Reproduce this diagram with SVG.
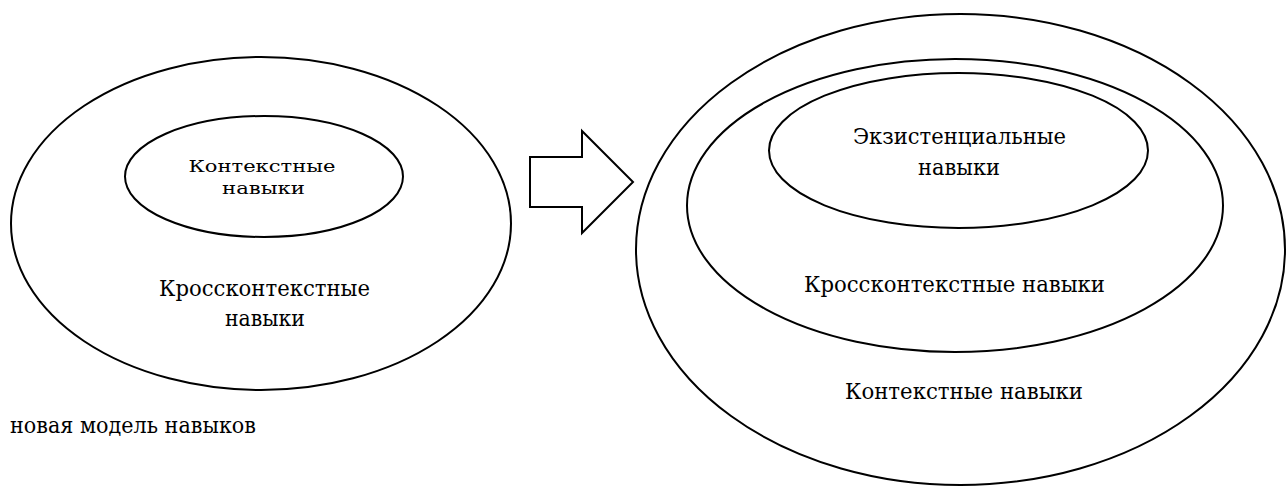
<svg xmlns="http://www.w3.org/2000/svg" width="1287" height="486" viewBox="0 0 1287 486">
<style>
.e{fill:none;stroke:#000;stroke-width:2}
text{fill:#000;text-anchor:middle}
</style>
<rect width="1287" height="486" fill="#fff"/>
<g font-family="DejaVu Serif, Liberation Serif, serif" font-size="23">
<g id="left-outer">
<ellipse class="e" cx="261" cy="223.5" rx="250" ry="166.5"/>
<text x="264.5" y="296" textLength="211" lengthAdjust="spacingAndGlyphs">Кроссконтекстные</text>
<text x="265" y="326" textLength="80" lengthAdjust="spacingAndGlyphs">навыки</text>
</g>
<g id="left-inner">
<ellipse class="e" cx="264" cy="176.5" rx="139" ry="60.5"/>
<text x="262" y="172" font-size="17" textLength="147" lengthAdjust="spacingAndGlyphs">Контекстные</text>
<text x="263.5" y="194" font-size="17" textLength="83" lengthAdjust="spacingAndGlyphs">навыки</text>
</g>
<g id="connectors">
<polygon class="e" points="530,157 582,157 582,131 633,182 582,233 582,207 530,207"/>
</g>
<g id="caption">
<text x="10" y="433" text-anchor="start" style="text-anchor:start" textLength="246" lengthAdjust="spacingAndGlyphs">новая модель навыков</text>
</g>
<g id="right-outer">
<ellipse class="e" cx="960.5" cy="249.5" rx="324.5" ry="235.5"/>
<text x="964" y="399" textLength="238" lengthAdjust="spacingAndGlyphs">Контекстные навыки</text>
</g>
<g id="right-middle">
<ellipse class="e" cx="955" cy="205.5" rx="268" ry="146.5"/>
<text x="954.5" y="292" textLength="301" lengthAdjust="spacingAndGlyphs">Кроссконтекстные навыки</text>
</g>
<g id="right-inner">
<ellipse class="e" cx="958.5" cy="150.5" rx="189.5" ry="77.5"/>
<text x="959.5" y="144" textLength="213" lengthAdjust="spacingAndGlyphs">Экзистенциальные</text>
<text x="959" y="175" textLength="82" lengthAdjust="spacingAndGlyphs">навыки</text>
</g>
</g>
</svg>
